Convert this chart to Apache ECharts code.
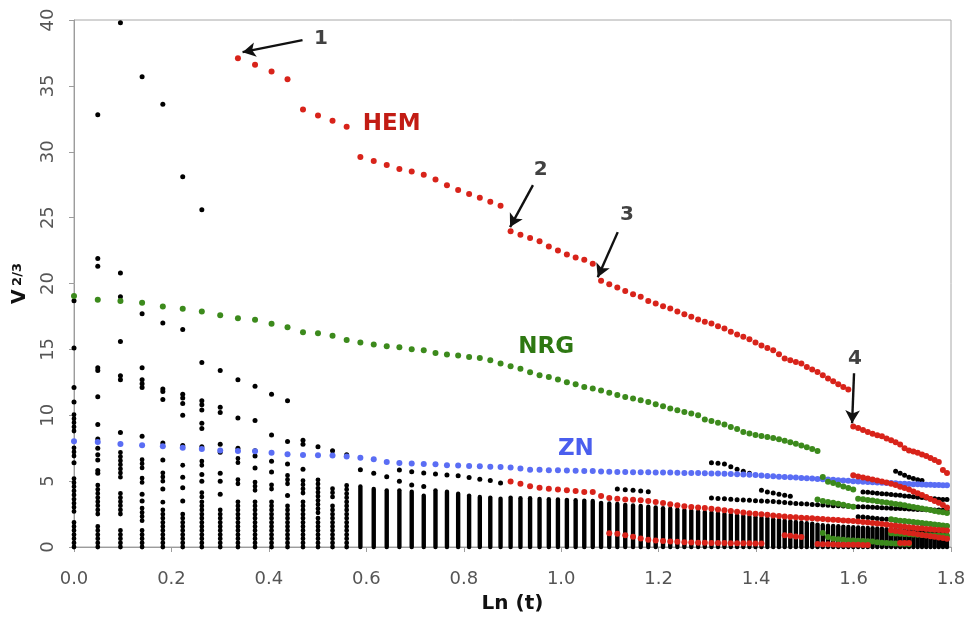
<!DOCTYPE html>
<html><head><meta charset="utf-8">
<script src="https://cdn.jsdelivr.net/npm/echarts@6/dist/echarts.min.js"></script>
<style>html,body{margin:0;padding:0;background:#fff}#c{width:971px;height:618px}</style>
</head><body><div id="c"></div>
<script>
// ---------------- DATA ----------------
// time grid t (x axis shows ln t)
const tValues = [1.00,1.05,1.10,1.15,1.20,1.25,1.30,1.35,1.40,1.45,1.50,1.55,1.60,1.65,1.70,1.75,1.80,1.85,1.90,1.95,
  2.00,2.05,2.10,2.15,2.20,2.25,2.30,2.35,2.40,2.45,2.50,2.55,2.60,2.65,2.70,2.75,2.80,2.85,2.90,2.95,
  3.00,3.05,3.10,3.15,3.20,3.25,3.30,3.35,3.40,3.45,3.50,3.55,3.60,3.65,3.70,3.75,3.80,3.85,3.90,3.95,
  4.00,4.05,4.10,4.15,4.20,4.25,4.30,4.35,4.40,4.45,4.50,4.55,4.60,4.65,4.70,4.75,4.80,4.85,4.90,4.95,
  5.00,5.05,5.10,5.15,5.20,5.25,5.30,5.35,5.40,5.45,5.50,5.55,5.60,5.65,5.70,5.75,5.80,5.85,5.90,5.95,6.00];

const xTicks = [0.0,0.2,0.4,0.6,0.8,1.0,1.2,1.4,1.6,1.8];
const yTicks = [0,5,10,15,20,25,30,35,40];

// HEM (main red trace), from t = 1.40
const hemStart = 1.40;
const hemValues = [37.1,36.6,36.1,35.5,33.2,32.75,32.35,31.9,29.6,29.3,29.0,28.7,28.5,28.25,27.9,27.45,27.1,26.8,26.5,26.2,25.9,
  23.97,23.7,23.46,23.2,22.8,22.5,22.2,21.97,21.8,21.5,
  20.2,19.95,19.7,19.44,19.19,18.99,18.68,18.48,18.28,18.1,17.87,17.67,17.47,17.27,17.09,16.96,16.76,16.58,16.33,16.13,
  15.95,15.77,15.52,15.29,15.11,14.94,14.63,14.3,14.18,14.05,13.92,13.67,13.47,13.29,13.04,12.78,12.58,12.35,12.15,11.95,
  9.15,9.03,8.88,8.73,8.6,8.48,8.4,8.24,8.1,7.95,7.78,7.5,7.33,7.25,7.15,7.03,6.9,6.75,6.6,6.45,5.85,5.62];

// NRG (main green trace), from t = 1.00
const nrgStart = 1.00;
const nrgValues = [19.06,18.76,18.68,18.53,18.25,18.08,17.87,17.59,17.37,17.24,16.94,16.68,16.3,16.23,16.03,15.72,15.52,15.37,15.24,15.16,
  15.01,14.94,14.73,14.61,14.53,14.43,14.35,14.18,13.92,13.72,13.52,
  13.26,13.04,12.91,12.71,12.51,12.35,12.15,12.03,11.87,11.7,11.54,11.39,11.27,11.14,11.01,10.84,10.68,10.51,10.38,10.25,10.13,10.0,
  9.67,9.57,9.44,9.29,9.11,8.96,8.73,
  8.61,8.5,8.43,8.35,8.27,8.18,8.06,7.95,7.83,7.71,7.58,7.43,7.29];

// ZN (blue trace), from t = 1.00
const znStart = 1.00;
const znValues = [8.03,7.97,7.82,7.72,7.65,7.54,7.44,7.32,7.29,7.27,7.16,7.04,6.99,6.96,6.94,6.86,6.78,6.66,6.46,6.38,
  6.33,6.3,6.28,6.2,6.18,6.15,6.13,6.1,6.08,6.04,5.95,
  5.87,5.86,5.83,5.82,5.8,5.78,5.77,5.76,5.74,5.72,5.7,5.7,5.68,5.67,5.67,5.66,5.65,5.65,5.64,5.62,
  5.62,5.61,5.6,5.58,5.57,5.56,5.54,5.52,5.5,5.48,5.46,5.42,5.39,5.37,5.34,5.32,5.29,5.27,5.24,5.22,
  5.2,5.17,5.14,5.12,5.1,5.07,5.05,5.02,5.0,4.98,4.96,4.94,4.92,4.9,4.88,4.86,4.85,4.83,4.81,4.8,
  4.78,4.77,4.76,4.75,4.73,4.72,4.71,4.7,4.69,4.68];

// secondary red traces
const redLineStarts = [2.45, 3.00, 4.30, 4.60, 4.95, 5.35, 5.45];
const redLineValues = [
  [4.97,4.8,4.62,4.49,4.43,4.37,4.3,4.25,4.18,4.18,3.88,3.72,3.66,3.6,3.58,3.54,3.49,3.42,3.34,3.24,
   3.16,3.09,3.04,2.99,2.96,2.91,2.84,2.78,2.73,2.68,2.62,2.56,2.52,2.48,2.44,2.4,2.36,2.32,2.28,2.25,
   2.22,2.2,2.18,2.15,2.12,2.09,2.06,2.04,2.02,2.0,1.98,1.94,1.9,1.86,1.82,1.78,1.74,1.7,1.66,1.62,
   1.58,1.54,1.5,1.46,1.43,1.4,1.37,1.34,1.31,1.29,1.27,1.25],
  [1.05,1.0,0.9,0.78,0.65,0.55,0.5,0.46,0.42,0.4,0.37,0.35,0.33,0.32,0.31,0.3,0.3,0.29,0.29,0.28,0.28,0.27,0.27],
  [0.89,0.85,0.8,0.76],
  [0.22,0.2,0.2,0.19,0.18,0.18,0.18,0.17,0.17,0.16,0.16],
  [5.44,5.35,5.27,5.2,5.12,5.05,4.98,4.9,4.8,4.7,4.58,4.48,4.36,4.22,4.08,3.95,3.8,3.65,3.5,3.35,3.18,3.0],
  [1.27,1.22,1.17,1.12,1.07,1.02,0.97,0.92,0.87,0.82,0.77,0.72,0.68,0.63],
  [0.3,0.3,0.3]
];

// secondary green traces
const greenLineStarts = [4.65, 4.60, 5.00, 5.35, 4.65, 5.35];
const greenLineValues = [
  [5.32,4.95,4.85,4.72,4.6,4.48,4.36],
  [3.6,3.5,3.42,3.35,3.28,3.2,3.12,3.05],
  [3.67,3.62,3.57,3.52,3.47,3.42,3.37,3.32,3.27,3.22,3.16,3.1,3.04,2.98,2.92,2.86,2.8,2.74,2.68,2.63,2.58],
  [2.1,2.05,2.0,1.97,1.93,1.9,1.86,1.82,1.78,1.74,1.7,1.67,1.63,1.6],
  [1.06,0.76,0.62,0.58,0.55,0.52,0.5,0.48,0.46,0.44,0.42,0.36,0.32,0.3,0.28,0.26,0.25,0.24,0.22],
  [1.05,1.03,1.0,0.98,0.96,0.95,0.93,0.92,0.9,0.89,0.88,0.87,0.86,0.85]
];

// black: dense stack top per t column (stack from 0)
const blackStackTop = [2.1,1.6,1.5,1.5,3.0,2.8,3.5,3.1,3.7,3.5,3.5,3.2,3.7,2.3,3.3,4.7,4.6,4.4,4.3,4.3,
  4.2,3.9,4.3,4.2,4.05,3.9,3.8,3.75,3.67,3.75,3.7,3.7,3.65,3.62,3.6,3.58,3.55,3.52,3.5,3.35,
  3.3,3.26,3.2,3.15,3.12,3.05,3.0,2.95,2.9,2.84,2.8,2.76,2.7,2.66,2.6,2.55,2.5,2.46,2.4,2.35,
  2.3,2.26,2.2,2.16,2.1,2.05,2.0,1.96,1.9,1.86,1.8,1.76,1.7,1.66,1.62,1.6,1.58,1.55,1.52,1.5,
  1.48,1.46,1.44,1.42,1.4,1.38,1.36,1.34,1.32,1.3,1.28,1.26,1.24,1.22,1.2,1.18,1.16,1.14,1.12,1.1,1.08];

// black: extra stacked stretches [t, from, to]
const blackStretches = [
  [1.00,2.7,5.3],[1.00,6.9,7.8],[1.00,8.8,10.3],[1.05,2.5,4.7],[1.10,2.5,4.3],[1.10,5.3,7.3],
  [1.15,2.0,3.0],[1.15,4.9,5.3],[1.15,6.0,6.9],[1.20,3.4,3.7],[1.20,5.0,5.9],[1.25,6.2,6.4],
  [1.30,3.8,4.2],[1.30,6.2,6.8],[1.40,4.8,5.4],[1.40,6.4,6.8],[1.45,4.3,5.1],[1.50,4.4,5.0],
  [1.55,4.8,5.6],[1.60,4.1,5.1],[1.65,2.6,5.2],[1.70,3.8,4.7]
];

// black: isolated points per t column
const blackColumnDots = [
  [1.00,[6.4,11.0,12.1,15.1,18.7]],
  [1.05,[5.6,5.8,6.6,7.0,7.5,8.2,9.3,11.4,13.4,13.6,21.3,21.9,32.8]],
  [1.10,[8.7,12.7,13.0,15.6,19.0,20.8,39.8]],
  [1.15,[3.5,4.0,8.4,12.1,12.4,12.7,13.6,17.7,35.7]],
  [1.20,[4.4,6.6,7.9,11.2,11.8,12.0,17.0,33.6]],
  [1.25,[3.5,4.5,5.3,7.7,10.0,10.9,11.3,11.6,16.5,28.1]],
  [1.30,[5.0,5.5,7.6,9.0,9.4,10.4,10.8,11.1,14.0,25.6]],
  [1.35,[4.0,5.0,5.6,7.2,7.8,10.2,10.6,13.4]],
  [1.40,[7.5,9.8,12.7]],
  [1.45,[6.0,6.9,7.3,9.6,12.2]],
  [1.50,[5.7,6.5,8.5,11.6]],
  [1.55,[3.9,6.3,8.0,11.1]],
  [1.60,[5.9,7.8,8.1]],
  [1.65,[7.6]],[1.70,[7.3]],[1.75,[7.0]],[1.80,[5.87]],[1.85,[5.6]],[1.90,[5.34]],
  [1.95,[5.0,5.85]],[2.00,[4.7,5.72]],[2.05,[4.6,5.62]],[2.10,[5.54]],[2.15,[5.47]],[2.20,[5.4]],
  [2.25,[5.28]],[2.30,[5.15]],[2.35,[5.04]],[2.40,[4.85]]
];

// black: rows of points running across columns
const blackRowStarts = [3.05, 3.70, 4.10, 3.70, 5.40, 5.05, 5.00];
const blackRowValues = [
  [4.4,4.35,4.3,4.25,4.2],
  [6.4,6.35,6.3,6.1,5.9,5.75,5.6],
  [4.3,4.18,4.1,4.0,3.92,3.85],
  [3.72,3.68,3.67,3.63,3.59,3.56,3.54,3.51,3.49,3.47,3.45,3.42,3.38,3.34,3.31,3.29,3.26,3.22,3.2,
   3.18,3.16,3.14,3.13,3.11,3.1,3.08,3.06,3.05,3.03,3.01,3.0,2.98,2.96,2.95,2.93,2.92,2.9,2.88,2.87,
   2.85,2.84,2.83,2.82,2.81,2.8,2.79,2.78],
  [5.75,5.6,5.44,5.3,5.2,5.1,5.05],
  [4.18,4.15,4.12,4.08,4.05,4.02,3.98,3.95,3.92,3.88,3.85,3.82,3.78,3.75,3.72,3.69,3.66,3.63,3.61,3.6],
  [2.3,2.27,2.24,2.2,2.17,2.13,2.1,2.06,2.02,1.98,1.95,1.91,1.87,1.83,1.79,1.75,1.72,1.68,1.65,1.62,1.6]
];

// annotations (data coordinates: ln t, V^(2/3))
const markerTexts = ['1','2','3','4'];
const markerTextAt = [[0.507,38.6],[0.958,28.6],[1.135,25.2],[1.603,14.3]];
const arrowFrom = [[0.469,38.47],[0.942,27.47],[1.116,23.9],[1.601,13.19]];
const arrowTo = [[0.346,37.56],[0.895,24.28],[1.075,20.48],[1.597,9.39]];
const traceNames = ['HEM','NRG','ZN'];
const traceNameAt = [[0.652,32.1],[0.969,15.17],[1.030,7.42]];

// ---------------- BUILD ----------------
const RED = '#d8231a', GREEN = '#3c8a1c', BLUE = '#5a6df4', BLACK = '#000';
const LABEL_COLORS = ['#c21c14', '#2e7812', '#4a5eee'];
const DOTTED_UNTIL_T = 1.75;   // early columns are drawn as beaded stacks
function tIndex(t){ return tValues.findIndex(v => Math.abs(v - t) < 1e-6); }
function pts(startT, vals){ const i0 = tIndex(startT); return vals.map((v,i) => [Math.log(tValues[i0+i]), v]); }

const stackData = tValues.map((t,i) => [Math.log(t), 0, blackStackTop[i], t <= DOTTED_UNTIL_T ? 1 : 0])
  .concat(blackStretches.map(s => [Math.log(s[0]), s[1], s[2], 1]));
let blackPts = [];
blackColumnDots.forEach(c => c[1].forEach(v => blackPts.push([Math.log(c[0]), v])));
blackRowStarts.forEach((s,k) => { blackPts = blackPts.concat(pts(s, blackRowValues[k])); });

let redPts = pts(hemStart, hemValues);
redLineStarts.forEach((s,k) => { redPts = redPts.concat(pts(s, redLineValues[k])); });
let greenPts = pts(nrgStart, nrgValues);
greenLineStarts.forEach((s,k) => { greenPts = greenPts.concat(pts(s, greenLineValues[k])); });
const bluePts = pts(znStart, znValues);

const FONT = 'DejaVu Sans';
const AX = '#9c9c9c';

const chart = echarts.init(document.getElementById('c'), null, {renderer:'canvas'});
chart.setOption({
  animation: false,
  backgroundColor: '#fff',
  grid: {left:74, right:20, top:20, bottom:71, show:true, borderColor:'#a8a8a8', borderWidth:1,
         containLabel:false, outerBoundsMode:'none'},
  xAxis: {
    type:'value', min:0, max:1.8, interval:0.2,
    axisLine:{show:true, onZero:false, lineStyle:{color:AX}},
    axisTick:{show:true, length:5, lineStyle:{color:AX}},
    splitLine:{show:false},
    axisLabel:{margin:23, fontFamily:FONT, fontSize:18, color:'#555', showMinLabel:true, showMaxLabel:true,
      formatter: v => xTicks.find(t => Math.abs(t - v) < 1e-6) !== undefined ? v.toFixed(1) : ''},
    name:'Ln (t)', nameLocation:'middle', nameGap:47,
    nameTextStyle:{fontFamily:FONT, fontWeight:'bold', fontSize:20, color:'#111'}
  },
  yAxis: {
    type:'value', min:0, max:40, interval:5,
    axisLine:{show:true, lineStyle:{color:AX}},
    axisTick:{show:true, length:5, lineStyle:{color:AX}},
    splitLine:{show:false},
    axisLabel:{rotate:90, margin:17, fontFamily:FONT, fontSize:18, color:'#555', showMinLabel:true, showMaxLabel:true,
      formatter: v => yTicks.indexOf(v) >= 0 ? String(v) : ''},
    name:'{v|V} {s|2/3}', nameLocation:'middle', nameRotate:90, nameGap:44,
    nameTextStyle:{rich:{
      v:{fontFamily:FONT, fontWeight:'bold', fontSize:19, color:'#111'},
      s:{fontFamily:FONT, fontWeight:'bold', fontSize:13, color:'#111', verticalAlign:'top'}
    }}
  },
  series: [
    { type:'custom', name:'black stacks', silent:true, clip:false,
      encode:{x:0, y:[1,2]}, data: stackData,
      renderItem: function(params, api){
        const p1 = api.coord([api.value(0), api.value(1)]);
        const p2 = api.coord([api.value(0), api.value(2)]);
        const beaded = api.value(3) === 1;
        return {type:'line', shape:{x1:p1[0], y1:p1[1], x2:p2[0], y2:p2[1]},
          style: beaded
            ? {stroke:BLACK, lineWidth:4.8, lineCap:'round', lineDash:[0.1,4.0], fill:null}
            : {stroke:BLACK, lineWidth:4.4, lineCap:'round', fill:null}};
      }
    },
    { type:'scatter', name:'black', silent:true, symbolSize:5, itemStyle:{color:BLACK, opacity:1}, data: blackPts },
    { type:'scatter', name:'ZN', silent:true, symbolSize:6, itemStyle:{color:BLUE, opacity:1}, data: bluePts },
    { type:'scatter', name:'NRG', silent:true, symbolSize:6, itemStyle:{color:GREEN, opacity:1}, data: greenPts },
    { type:'scatter', name:'HEM', silent:true, symbolSize:6, itemStyle:{color:RED, opacity:1}, data: redPts,
      markLine:{ silent:true, symbol:['none','arrow'], symbolSize:[11,13], animation:false,
        lineStyle:{color:'#111', width:2.4, type:'solid', opacity:1}, label:{show:false}, emphasis:{disabled:true},
        data: arrowFrom.map((f,i) => [{coord:f}, {coord:arrowTo[i]}]) }
    },
    { type:'scatter', name:'labels', silent:true, symbolSize:1, itemStyle:{color:'rgba(0,0,0,0)'},
      label:{show:true, position:'inside', fontFamily:FONT, fontWeight:'bold', formatter: p => p.data.text},
      data: markerTexts.map((s,i) => ({value:markerTextAt[i], text:s, label:{fontSize:20, color:'#111'}}))
        .concat(traceNames.map((s,i) => ({value:traceNameAt[i], text:s,
          label:{fontSize:23, color:LABEL_COLORS[i], opacity:1}})))
    }
  ]
});
</script>
</body></html>
